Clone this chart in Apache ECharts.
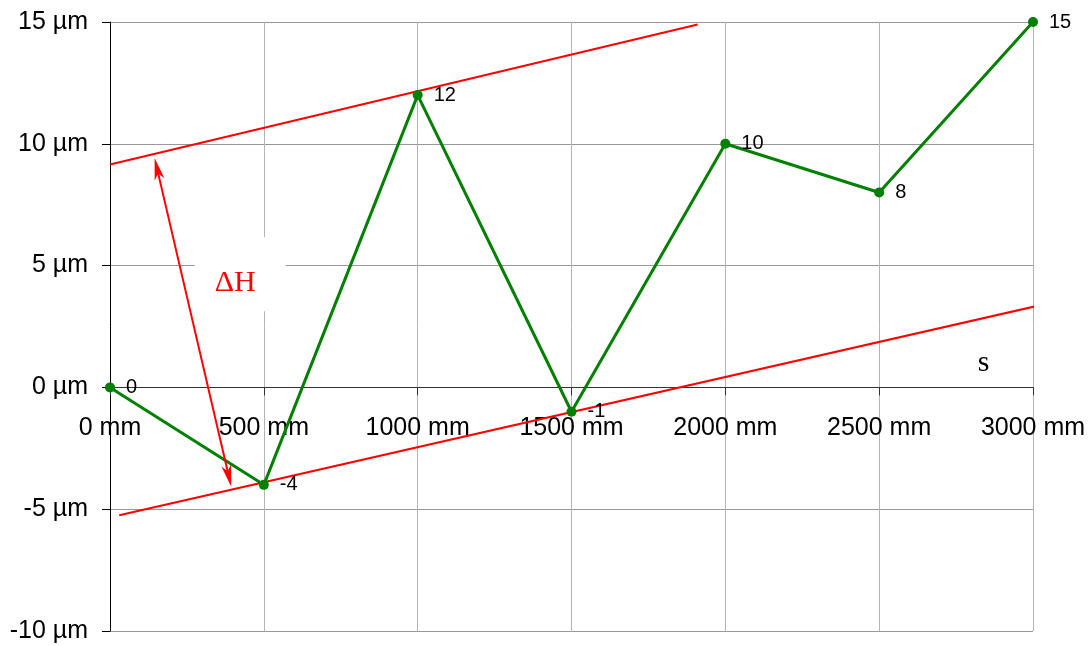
<!DOCTYPE html>
<html><head><meta charset="utf-8">
<script src="https://cdn.jsdelivr.net/npm/echarts@6/dist/echarts.min.js"></script>
<style>html,body{margin:0;padding:0;background:#fff}#c{width:1092px;height:646px}</style>
</head><body><div id="c"></div>
<script>
const positions = [0, 500, 1000, 1500, 2000, 2500, 3000];
const deviations = [0, -4, 12, -1, 10, 8, 15];
const upperLine = [[0, 9.15], [1910, 14.9]];
const lowerLine = [[30, -5.25], [3015, 3.35]];
const arrowEnds = [[153, 8.98], [386, -3.64]];
const deltaLabelAt = [423, 4.65];
const sLabelAt = [2839, 1.0];

const SANS = '"Liberation Sans", Arial, sans-serif';
const SERIF = '"Liberation Serif", "Times New Roman", serif';
const arrowPath = 'path://M0,0 L5,22 L0,16 L-5,22 Z';

const gridTop = 22, gridBottom = 15, H = 646;
const yMin = -10, yMax = 15;
const plotH = H - gridTop - gridBottom;
const zeroFromBottom = plotH * (0 - yMin) / (yMax - yMin);

const chart = echarts.init(document.getElementById('c'), null, {renderer: 'canvas'});
chart.setOption({
  animation: false,
  backgroundColor: '#fff',
  grid: {left: 110, right: 59, top: gridTop, bottom: gridBottom, containLabel: false, outerBoundsMode: 'none'},
  xAxis: [{
    type: 'value', min: 0, max: 3000, interval: 500,
    axisLine: {onZero: true, lineStyle: {color: '#333', width: 1}},
    axisTick: {show: true, inside: false, length: 8, lineStyle: {color: '#333'}},
    axisLabel: {show: false},
    splitLine: {show: true, lineStyle: {color: '#b4b4b4', width: 1}}
  }, {
    type: 'value', min: 0, max: 3000, interval: 500, position: 'bottom',
    offset: -zeroFromBottom,
    axisLine: {show: false, onZero: false},
    axisTick: {show: false},
    axisLabel: {formatter: v => v + ' mm', fontFamily: SANS, fontSize: 25, color: '#000', margin: 28},
    splitLine: {show: false}
  }],
  yAxis: {
    type: 'value', min: yMin, max: yMax, interval: 5,
    axisLine: {show: true, onZero: false, lineStyle: {color: '#000', width: 1}},
    axisTick: {show: true, length: 8, lineStyle: {color: '#000'}},
    axisLabel: {formatter: v => v + ' µm', fontFamily: SANS, fontSize: 25, color: '#000', margin: 22},
    splitLine: {show: true, lineStyle: {color: '#999', width: 1}}
  },
  series: [
    {
      type: 'line', data: upperLine, symbol: 'none', silent: true,
      lineStyle: {color: '#ff0000', width: 2}, z: 3,
      markLine: {
        silent: true, symbol: [arrowPath, arrowPath], symbolSize: [10, 22],
        label: {show: false},
        lineStyle: {color: '#ff0000', width: 2, type: 'solid'},
        data: [[{coord: arrowEnds[0]}, {coord: arrowEnds[1]}]]
      },
      markPoint: {
        silent: true,
        data: [
          {coord: deltaLabelAt, symbol: 'rect', symbolSize: [91, 74],
           itemStyle: {color: '#fff'},
           label: {show: true, formatter: 'ΔH', color: '#ff0000', fontFamily: SERIF, fontSize: 30, offset: [-5, 9]}},
          {coord: sLabelAt, symbol: 'rect', symbolSize: 1, itemStyle: {color: 'rgba(0,0,0,0)'},
           label: {show: true, formatter: 's', color: '#000', fontFamily: SERIF, fontSize: 30}}
        ]
      }
    },
    {
      type: 'line', data: lowerLine, symbol: 'none', silent: true,
      lineStyle: {color: '#ff0000', width: 2}, z: 3
    },
    {
      type: 'line',
      data: positions.map((p, i) => [p, deviations[i]]),
      symbol: 'circle', symbolSize: 10,
      lineStyle: {color: '#008000', width: 3},
      itemStyle: {color: '#008000'},
      label: {show: true, position: 'right', distance: 11, formatter: p => p.value[1],
              fontFamily: SANS, fontSize: 20, color: '#000'},
      z: 4
    }
  ]
});
</script></body></html>
